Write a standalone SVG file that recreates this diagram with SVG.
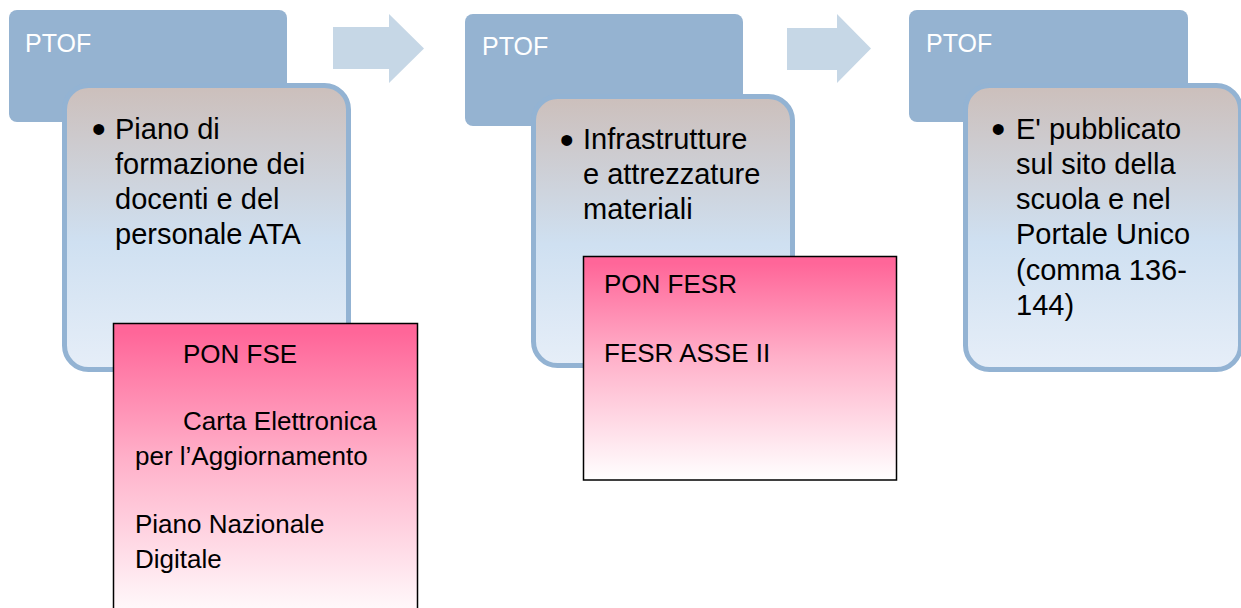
<svg xmlns="http://www.w3.org/2000/svg" width="1241" height="608" viewBox="0 0 1241 608">
  <defs>
    <linearGradient id="bodyGrad" x1="0" y1="0" x2="0" y2="1">
      <stop offset="0" stop-color="#CCBFBB"/>
      <stop offset="0.55" stop-color="#CFE0F1"/>
      <stop offset="1" stop-color="#E6EEF8"/>
    </linearGradient>
    <linearGradient id="pinkGrad" x1="0" y1="0" x2="0" y2="1">
      <stop offset="0.03" stop-color="#FF6699"/>
      <stop offset="0.45" stop-color="#FFB0C9"/>
      <stop offset="1" stop-color="#FFFFFF"/>
    </linearGradient>
    <style>
      .hdr { fill: #95B3D1; }
      .body { fill: url(#bodyGrad); stroke: #93B3D3; stroke-width: 5; }
      .pink { fill: url(#pinkGrad); stroke: #000000; stroke-width: 1.5; }
      .arrow { fill: #C6D7E6; }
      .ptof { font-family: "Liberation Sans", Arial, sans-serif; font-size: 25px; fill: #FFFFFF; }
      .txt { font-family: "Liberation Sans", Arial, sans-serif; font-size: 29px; fill: #000000; }
      .bul { font-family: "Liberation Sans", Arial, sans-serif; font-size: 40px; fill: #000000; }
      .ptxt { font-family: "Liberation Sans", Arial, sans-serif; font-size: 26px; fill: #000000; }
    </style>
  </defs>

  <g id="connectors">
    <polygon class="arrow" points="333,27 389,27 389,14 424,48.5 389,83 389,69 333,69"/>
    <polygon class="arrow" points="787,28 837,28 837,14 871,48.5 837,83 837,70 787,70"/>
  </g>

  <g id="panel1">
    <rect class="hdr" x="9" y="10" width="278" height="112" rx="8"/>
    <text class="ptof" x="25" y="51.5">PTOF</text>
    <rect class="body" x="64.5" y="85.5" width="284" height="284" rx="24"/>
    <text class="bul" x="91.7" y="143">•</text>
    <text class="txt" x="115">
      <tspan x="115" y="138.5">Piano di</tspan>
      <tspan x="115" y="173.8">formazione dei</tspan>
      <tspan x="115" y="209.1">docenti e del</tspan>
      <tspan x="115" y="244.4">personale ATA</tspan>
    </text>
  </g>
  <g id="box1">
    <rect class="pink" x="113.5" y="323.5" width="304" height="300"/>
    <text class="ptxt" x="183" y="363">PON FSE</text>
    <text class="ptxt" x="183" y="430">Carta Elettronica</text>
    <text class="ptxt" x="135" y="465">per l’Aggiornamento</text>
    <text class="ptxt" x="135" y="533">Piano Nazionale</text>
    <text class="ptxt" x="135" y="568">Digitale</text>
  </g>

  <g id="panel2">
    <rect class="hdr" x="465" y="14" width="278" height="112" rx="8"/>
    <text class="ptof" x="482" y="55">PTOF</text>
    <rect class="body" x="533.5" y="96.5" width="259" height="269" rx="24"/>
    <text class="bul" x="559.7" y="154">•</text>
    <text class="txt" x="583">
      <tspan x="583" y="148.5">Infrastrutture</tspan>
      <tspan x="583" y="183.5">e attrezzature</tspan>
      <tspan x="583" y="218.5">materiali</tspan>
    </text>
  </g>
  <g id="box2">
    <rect class="pink" x="583.5" y="256.5" width="313" height="223.5"/>
    <text class="ptxt" x="604" y="293">PON FESR</text>
    <text class="ptxt" x="604" y="362">FESR ASSE II</text>
  </g>

  <g id="panel3">
    <rect class="hdr" x="909" y="10" width="279" height="112" rx="8"/>
    <text class="ptof" x="926" y="52">PTOF</text>
    <rect class="body" x="965.5" y="85.5" width="275" height="284" rx="24"/>
    <text class="bul" x="991.3" y="143">•</text>
    <text class="txt" x="1016">
      <tspan x="1016" y="138.5">E' pubblicato</tspan>
      <tspan x="1016" y="173.8">sul sito della</tspan>
      <tspan x="1016" y="209.1">scuola e nel</tspan>
      <tspan x="1016" y="244.4">Portale Unico</tspan>
      <tspan x="1016" y="279.7">(comma 136-</tspan>
      <tspan x="1016" y="315">144)</tspan>
    </text>
  </g>
</svg>
